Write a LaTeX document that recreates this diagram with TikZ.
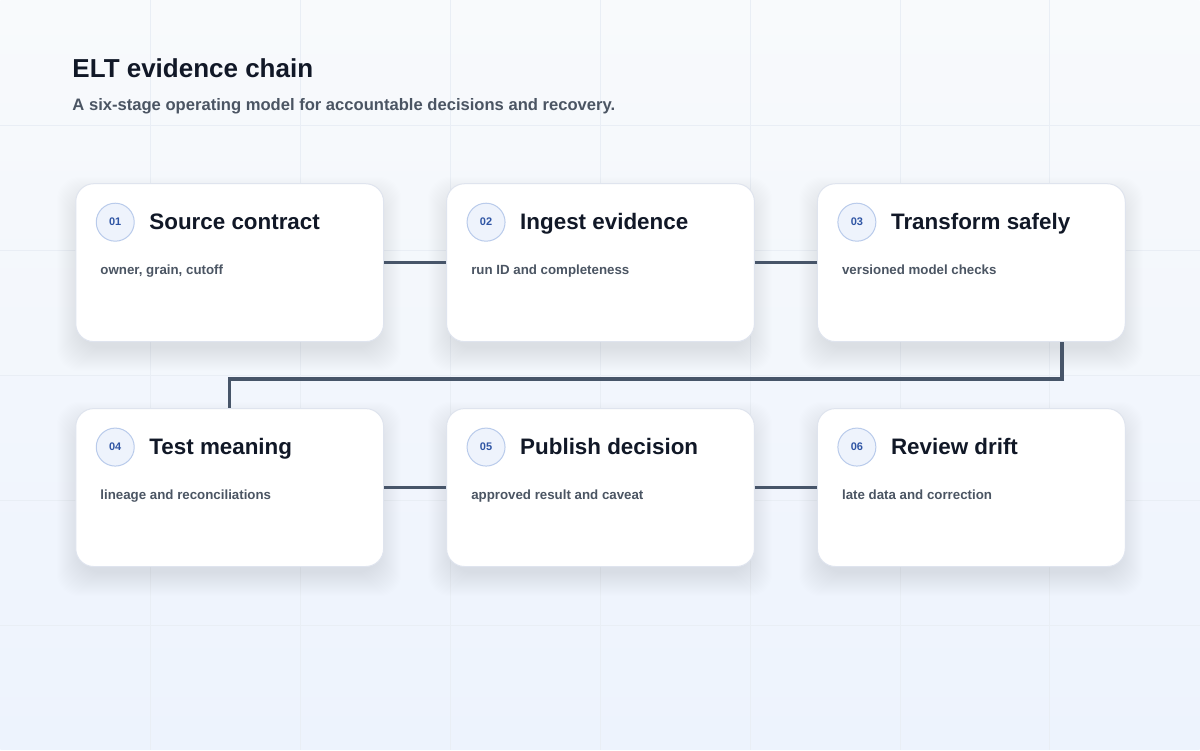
\documentclass[tikz,border=0pt]{standalone}
\usepackage{fontspec}
\setmainfont{Liberation Sans}
\usepackage{xcolor}
\usetikzlibrary{positioning}

\definecolor{bgtop}{HTML}{F8FAFC}
\definecolor{bgbot}{HTML}{EDF3FD}
\definecolor{gridc}{HTML}{E9EEF5}
\definecolor{ink}{HTML}{111827}
\definecolor{muted}{HTML}{4B5563}
\definecolor{cardline}{HTML}{DFE4EE}
\definecolor{shadowc}{HTML}{7C8AA8}
\definecolor{numblue}{HTML}{2F55A4}
\definecolor{numfill}{HTML}{EEF3FC}
\definecolor{numline}{HTML}{B9CBEB}
\definecolor{linkc}{HTML}{475569}

\begin{document}
\begin{tikzpicture}[x=1pt, y=-1pt,
	card/.style={draw=cardline, fill=white, line width=1pt, rounded corners=18pt, minimum width=308pt, minimum height=158pt, anchor=north west, inner sep=0pt},
	num/.style={circle, draw=numline, fill=numfill, line width=1pt, minimum size=38pt, inner sep=0pt, text=numblue, font=\fontsize{11pt}{13pt}\selectfont\bfseries},
	head/.style={anchor=base west, inner sep=0pt, text=ink, font=\fontsize{22.4pt}{26pt}\selectfont\bfseries},
	desc/.style={anchor=base west, inner sep=0pt, text=muted, font=\fontsize{13.3pt}{16pt}\selectfont\bfseries},
	link/.style={draw=linkc, line width=3.5pt}]
	% background and faint grid
	\shade[top color=bgtop, bottom color=bgbot] (0,0) rectangle (1200,750);
	\foreach \gx in {150,300,...,1050}
		\draw[gridc, line width=0.6pt] (\gx,0) -- (\gx,750);
	\foreach \gy in {125,250,...,625}
		\draw[gridc, line width=0.6pt] (0,\gy) -- (1200,\gy);
	\useasboundingbox (0,0) rectangle (1200,750);

	% title
	\node[anchor=base west, inner sep=0pt, text=ink, font=\fontsize{26pt}{30pt}\selectfont\bfseries] (title) at (72,77) {ELT evidence chain};
	\node[anchor=base west, inner sep=0pt, text=muted, font=\fontsize{16.6pt}{19pt}\selectfont\bfseries] (subtitle) at (72,110) {A six-stage operating model for accountable decisions and recovery.};

	% stage cards
	\foreach \i/\cx/\cy/\t/\d in {1/75/183/Source contract/{owner, grain, cutoff},
			2/446/183/Ingest evidence/run ID and completeness,
			3/817/183/Transform safely/versioned model checks,
			4/75/408/Test meaning/lineage and reconciliations,
			5/446/408/Publish decision/approved result and caveat,
			6/817/408/Review drift/late data and correction}{
		% soft shadow
		\foreach \s in {1,...,24}
			\fill[shadowc, fill opacity=0.008, rounded corners=22pt] (\cx+6-\s,\cy+18-\s) rectangle (\cx+302+\s,\cy+164+\s);
		\node[card] (c\i) at (\cx,\cy) {};
		\node[num] (n\i) at ([shift={(40,39)}]c\i.north west) {0\i};
		\node[head] (t\i) at ([shift={(74,46)}]c\i.north west) {\t};
		\node[desc] (d\i) at ([shift={(25,91)}]c\i.north west) {\d};
	}

	% connectors
	\draw[link] (c1.east) -- (c2.west);
	\draw[link] (c2.east) -- (c3.west);
	\coordinate (turn) at (1062,379);
	\draw[link] (c3.south -| turn) |- (turn -| c4.north) -- (c4.north);
	\draw[link] (c4.east) -- (c5.west);
	\draw[link] (c5.east) -- (c6.west);
\end{tikzpicture}
\end{document}
